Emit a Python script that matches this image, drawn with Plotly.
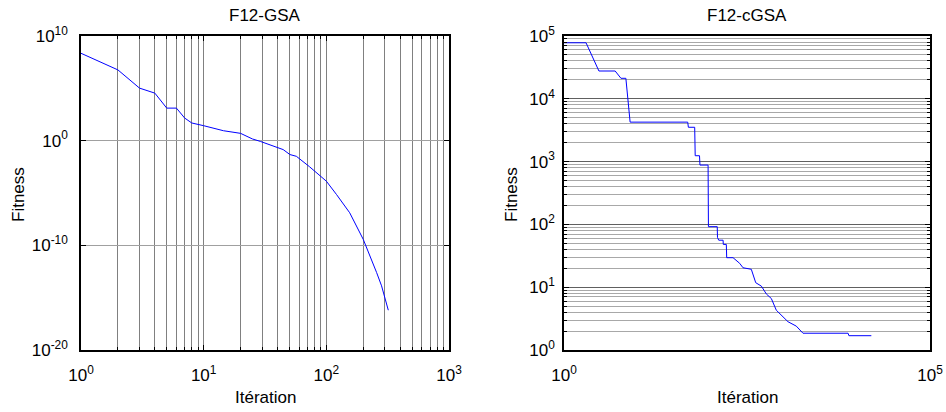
import plotly.graph_objects as go

# ---- data ----
gsa_iter = [1, 2, 3, 4, 5, 6, 7, 8, 10, 12, 14.5, 20, 25, 29, 37, 44.5, 50.5, 57, 73, 94,
            100, 121, 155, 200, 241, 257, 282, 320]
gsa_fit = [2.24e8, 5.75e6, 1.05e5, 3.47e4, 1.29e3, 1.29e3, 145, 49, 27, 16, 8.9, 5.0, 1.45,
           0.85, 0.29, 0.14, 0.047, 0.032, 3.2e-3, 2.5e-4, 1.35e-4, 7.2e-6, 1.3e-7, 3.7e-10,
           2.2e-12, 2.5e-13, 1.35e-14, 6.3e-17]

cgsa_iter = [1, 2, 3, 5, 6, 7, 8, 49, 50, 61, 62, 71, 72, 93, 94, 124, 125, 130, 149, 150,
             165, 167, 204, 251, 279, 362, 416, 497, 581, 680, 795, 931, 1148, 1490, 1840,
             7600, 7800, 15800]
cgsa_fit = [78000, 78000, 27700, 27700, 21200, 21200, 4250, 4250, 3520, 3520, 1240, 1240,
            880, 880, 92, 92, 62, 56, 56, 48, 48, 29.5, 29.5, 24, 20.4, 19.3, 11.8, 10.4,
            7.8, 6.6, 4.3, 3.6, 2.82, 2.4, 1.85, 1.85, 1.69, 1.69]

left_x_ticks = [1, 10, 100, 1000]
left_x_labels = ["10<sup>0</sup>", "10<sup>1</sup>", "10<sup>2</sup>", "10<sup>3</sup>"]
left_y_ticks = [1e-20, 1e-10, 1, 1e10]
left_y_labels = ["10<sup>-20</sup>", "10<sup>-10</sup>", "10<sup>0</sup>", "10<sup>10</sup>"]
right_x_ticks = [1, 1e5]
right_x_labels = ["10<sup>0</sup>", "10<sup>5</sup>"]
right_y_ticks = [1, 10, 100, 1000, 1e4, 1e5]
right_y_labels = ["10<sup>0</sup>", "10<sup>1</sup>", "10<sup>2</sup>", "10<sup>3</sup>",
                  "10<sup>4</sup>", "10<sup>5</sup>"]

titles = ["F12-GSA", "F12-cGSA"]
xlabel = "Itération"
ylabel = "Fitness"

FONT = "Liberation Sans, Arial, sans-serif"


def minor_vals(d0, d1):
    return [m * 10 ** k for k in range(d0, d1) for m in range(2, 10)]


fig = go.Figure()
fig.add_trace(go.Scatter(x=gsa_iter, y=gsa_fit, mode="lines",
                         line=dict(color="#0000ff", width=1), xaxis="x", yaxis="y",
                         showlegend=False))
fig.add_trace(go.Scatter(x=cgsa_iter, y=cgsa_fit, mode="lines",
                         line=dict(color="#0000ff", width=1), xaxis="x2", yaxis="y2",
                         showlegend=False))

W, H = 946, 412
L1, R1 = 81, 449
L2, R2 = 564, 930
T, B = 36, 350

common = dict(type="log", showline=True, linecolor="black", linewidth=1.5,
              ticks="inside", ticklen=5, tickcolor="black", mirror="ticks",
              zeroline=False, automargin=False,
              tickfont=dict(family=FONT, size=17, color="black"),
              tickmode="array")

fig.update_layout(
    width=W, height=H, margin=dict(l=0, r=0, t=0, b=0, pad=0, autoexpand=False),
    paper_bgcolor="white", plot_bgcolor="white",
    xaxis=dict(common, domain=[L1 / W, R1 / W], range=[0, 3], anchor="y",
               tickvals=left_x_ticks, ticktext=left_x_labels,
               showgrid=True, gridcolor="#808080", gridwidth=1, ticklabelstandoff=9,
               minor=dict(tickmode="array", tickvals=minor_vals(0, 3), ticks="inside",
                          ticklen=3, tickcolor="black", showgrid=True,
                          gridcolor="#808080", gridwidth=1)),
    yaxis=dict(common, domain=[1 - B / H, 1 - T / H], range=[-20, 10], anchor="x",
               tickvals=left_y_ticks, ticktext=left_y_labels,
               showgrid=True, gridcolor="#a0a0a0", gridwidth=1, ticklabelstandoff=8),
    xaxis2=dict(common, domain=[L2 / W, R2 / W], range=[0, 5], anchor="y2",
                tickvals=right_x_ticks, ticktext=right_x_labels, showgrid=False,
                ticklabelstandoff=9),
    yaxis2=dict(common, domain=[1 - B / H, 1 - T / H], range=[0, 5], anchor="x2",
                tickvals=right_y_ticks, ticktext=right_y_labels,
                showgrid=True, gridcolor="#606060", gridwidth=1, ticklabelstandoff=4,
                minor=dict(tickmode="array", tickvals=minor_vals(0, 5), ticks="inside",
                           ticklen=3, tickcolor="black", showgrid=True,
                           gridcolor="#a8a8a8", gridwidth=1)),
)

anns = []
for cx, t in [((L1 + R1) / 2, titles[0]), ((L2 + R2) / 2, titles[1])]:
    anns.append(dict(text=t, x=cx / W, y=1 - 16 / H, xref="paper", yref="paper",
                     showarrow=False, xanchor="center", yanchor="middle",
                     font=dict(family=FONT, size=17, color="black")))
    anns.append(dict(text=xlabel, x=cx / W, y=1 - 397 / H, xref="paper", yref="paper",
                     showarrow=False, xanchor="center", yanchor="middle",
                     font=dict(family=FONT, size=17, color="black")))
for lx in [18, 511]:
    anns.append(dict(text=ylabel, x=lx / W, y=1 - 195 / H, xref="paper", yref="paper",
                     showarrow=False, xanchor="center", yanchor="middle", textangle=-90,
                     font=dict(family=FONT, size=17, color="black")))
fig.update_layout(annotations=anns)

fig.write_html("out.html")
